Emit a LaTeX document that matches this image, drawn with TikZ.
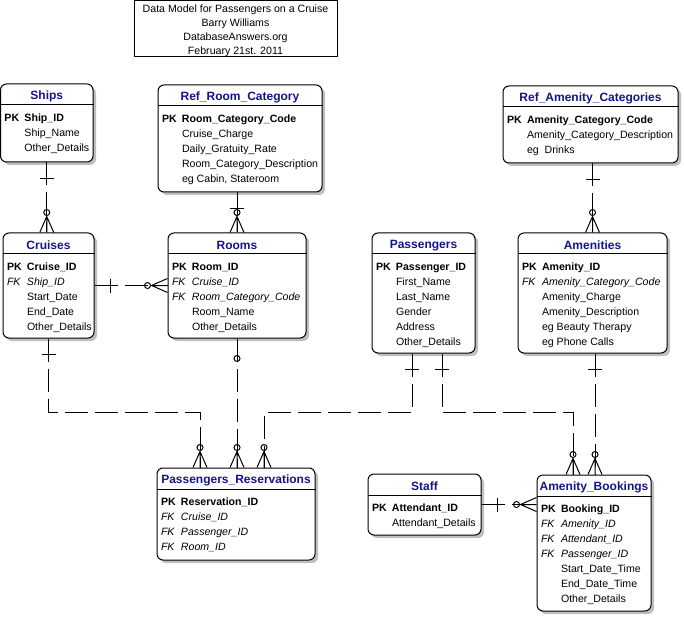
\documentclass[tikz,border=0pt]{standalone}
\usepackage{fontspec}
\setmainfont{Liberation Sans}
\usetikzlibrary{shadows}

\definecolor{navyt}{RGB}{20,20,140}
\def\rowfont{\fontsize{10.6}{15}\selectfont}
\def\headfont{\fontsize{12}{14}\selectfont\bfseries}
\newcommand\pkrow[1]{\makebox[20pt][l]{\bfseries PK}\textbf{#1}}
\newcommand\fkrow[1]{\makebox[20pt][l]{\itshape FK}\textit{#1}}
\newcommand\attr[1]{\hspace*{20pt}#1}
\newcommand\fields[1]{\begin{tabular}[t]{@{}l@{}}#1\end{tabular}}

\tikzstyle{entity}=[draw,rectangle,rounded corners=6pt,fill=white,inner sep=0pt,
                    drop shadow={shadow xshift=3pt,shadow yshift=-3pt,fill=black!25,opacity=1}]
\tikzstyle{etitle}=[inner sep=0pt,text=navyt,font=\headfont]
\tikzstyle{rows}=[anchor=base west,inner sep=0pt,font=\rowfont]
\tikzstyle{rel}=[dash pattern=on 23pt off 7pt]

\tikzset{
  one/.pic={\draw[solid] (16,-7) -- (16,7);},
  zmany/.pic={\draw[solid] (0,-7) -- (16,0) -- (0,7) (0,0) -- (16,0) (20,0) circle (3pt);},
  zone/.pic={\draw[solid] (20,0) circle (3pt);}
}

\begin{document}
\begin{tikzpicture}[x=1pt,y=-1pt,line width=1pt]
  \useasboundingbox (0,0) rectangle (684,617);

  % title block
  \node[draw,rectangle,inner sep=0pt,minimum width=203,minimum height=56,align=center,
        font=\fontsize{10.6}{14}\selectfont] (info) at (235.5,29) {};
  \node[align=center,inner sep=0pt,font=\fontsize{10.6}{14}\selectfont] (infot) at (235.5,30.5) {Data Model for Passengers on a Cruise\\Barry Williams\\DatabaseAnswers.org\\February 21st. 2011};

  % Ships
  \node[entity,minimum width=92.5,minimum height=78] (ships) at (46.75,123) {};
  \node[etitle] (shipst) at ([yshift=-13pt]ships.north) {Ships};
  \draw ([yshift=-21.5pt]ships.north west) -- ([yshift=-21.5pt]ships.north east);
  \node[rows] (shipsr) at ([xshift=4pt,yshift=-38pt]ships.north west) {\fields{\pkrow{Ship\_ID}\\ \attr{Ship\_Name}\\ \attr{Other\_Details}}};

  % Ref_Room_Category
  \node[entity,minimum width=164,minimum height=107] (refroom) at (240,138.5) {};
  \node[etitle] (refroomt) at ([yshift=-13pt]refroom.north) {Ref\_Room\_Category};
  \draw ([yshift=-21.5pt]refroom.north west) -- ([yshift=-21.5pt]refroom.north east);
  \node[rows] (refroomr) at ([xshift=4pt,yshift=-38pt]refroom.north west) {\fields{\pkrow{Room\_Category\_Code}\\ \attr{Cruise\_Charge}\\ \attr{Daily\_Gratuity\_Rate}\\ \attr{Room\_Category\_Description}\\ \attr{eg Cabin, Stateroom}}};

  % Ref_Amenity_Categories
  \node[entity,minimum width=175,minimum height=77] (refamen) at (590.5,124.5) {};
  \node[etitle] (refament) at ([yshift=-13pt]refamen.north) {Ref\_Amenity\_Categories};
  \draw ([yshift=-21.5pt]refamen.north west) -- ([yshift=-21.5pt]refamen.north east);
  \node[rows] (refamenr) at ([xshift=4pt,yshift=-38pt]refamen.north west) {\fields{\pkrow{Amenity\_Category\_Code}\\ \attr{Amenity\_Category\_Description}\\ \attr{eg\ \ Drinks}}};

  % Cruises
  \node[entity,minimum width=91,minimum height=105] (cruises) at (48.5,285.5) {};
  \node[etitle] (cruisest) at ([yshift=-13pt]cruises.north) {Cruises};
  \draw ([yshift=-21.5pt]cruises.north west) -- ([yshift=-21.5pt]cruises.north east);
  \node[rows] (cruisesr) at ([xshift=4pt,yshift=-38pt]cruises.north west) {\fields{\pkrow{Cruise\_ID}\\ \fkrow{Ship\_ID}\\ \attr{Start\_Date}\\ \attr{End\_Date}\\ \attr{Other\_Details}}};

  % Rooms
  \node[entity,minimum width=138,minimum height=105] (rooms) at (237,285.5) {};
  \node[etitle] (roomst) at ([yshift=-13pt]rooms.north) {Rooms};
  \draw ([yshift=-21.5pt]rooms.north west) -- ([yshift=-21.5pt]rooms.north east);
  \node[rows] (roomsr) at ([xshift=4pt,yshift=-38pt]rooms.north west) {\fields{\pkrow{Room\_ID}\\ \fkrow{Cruise\_ID}\\ \fkrow{Room\_Category\_Code}\\ \attr{Room\_Name}\\ \attr{Other\_Details}}};

  % Passengers
  \node[entity,minimum width=103,minimum height=120] (pass) at (423.5,293) {};
  \node[etitle] (passt) at ([yshift=-13pt]pass.north) {Passengers};
  \draw ([yshift=-21.5pt]pass.north west) -- ([yshift=-21.5pt]pass.north east);
  \node[rows] (passr) at ([xshift=4pt,yshift=-38pt]pass.north west) {\fields{\pkrow{Passenger\_ID}\\ \attr{First\_Name}\\ \attr{Last\_Name}\\ \attr{Gender}\\ \attr{Address}\\ \attr{Other\_Details}}};

  % Amenities
  \node[entity,minimum width=149,minimum height=120] (amen) at (592.5,293) {};
  \node[etitle] (ament) at ([yshift=-13pt]amen.north) {Amenities};
  \draw ([yshift=-21.5pt]amen.north west) -- ([yshift=-21.5pt]amen.north east);
  \node[rows] (amenr) at ([xshift=4pt,yshift=-38pt]amen.north west) {\fields{\pkrow{Amenity\_ID}\\ \fkrow{Amenity\_Category\_Code}\\ \attr{Amenity\_Charge}\\ \attr{Amenity\_Description}\\ \attr{eg Beauty Therapy}\\ \attr{eg Phone Calls}}};

  % Passengers_Reservations
  \node[entity,minimum width=158,minimum height=92] (resv) at (236,514) {};
  \node[etitle] (resvt) at ([yshift=-13pt]resv.north) {Passengers\_Reservations};
  \draw ([yshift=-21.5pt]resv.north west) -- ([yshift=-21.5pt]resv.north east);
  \node[rows] (resvr) at ([xshift=4pt,yshift=-38pt]resv.north west) {\fields{\pkrow{Reservation\_ID}\\ \fkrow{Cruise\_ID}\\ \fkrow{Passenger\_ID}\\ \fkrow{Room\_ID}}};

  % Staff
  \node[entity,minimum width=113,minimum height=61] (staff) at (424.5,504.5) {};
  \node[etitle] (stafft) at ([yshift=-13pt]staff.north) {Staff};
  \draw ([yshift=-21.5pt]staff.north west) -- ([yshift=-21.5pt]staff.north east);
  \node[rows] (staffr) at ([xshift=4pt,yshift=-38pt]staff.north west) {\fields{\pkrow{Attendant\_ID}\\ \attr{Attendant\_Details}}};

  % Amenity_Bookings
  \node[entity,minimum width=114,minimum height=136] (book) at (594,543) {};
  \node[etitle] (bookt) at ([yshift=-13pt]book.north) {Amenity\_Bookings};
  \draw ([yshift=-21.5pt]book.north west) -- ([yshift=-21.5pt]book.north east);
  \node[rows] (bookr) at ([xshift=4pt,yshift=-38pt]book.north west) {\fields{\pkrow{Booking\_ID}\\ \fkrow{Amenity\_ID}\\ \fkrow{Attendant\_ID}\\ \fkrow{Passenger\_ID}\\ \attr{Start\_Date\_Time}\\ \attr{End\_Date\_Time}\\ \attr{Other\_Details}}};

  % relationships
  \path (ships.south) edge[rel] (ships.south |- cruises.north);
  \path (ships.south) pic[rotate=-90]{one} (ships.south |- cruises.north) pic[rotate=90]{zmany};

  \path (rooms.north |- refroom.south) edge[rel] (rooms.north);
  \path (rooms.north |- refroom.south) pic[rotate=-90]{one} (rooms.north) pic[rotate=90]{zmany};

  \path (cruises.east) edge[rel] (rooms.west);
  \path (cruises.east) pic{one} (rooms.west) pic[rotate=180]{zmany};

  \draw[rel] (cruises.south) -- ++(0,74) -| ([xshift=-36pt]resv.north);
  \path (cruises.south) pic[rotate=-90]{one} ([xshift=-36pt]resv.north) pic[rotate=90]{zmany};

  \path (rooms.south) edge[rel] (rooms.south |- resv.north);
  \path (rooms.south) pic[rotate=-90]{zone} (rooms.south |- resv.north) pic[rotate=90]{zmany};

  \draw[rel] ([xshift=-11.5pt]pass.south) -- ++(0,59) -| ([xshift=28pt]resv.north);
  \path ([xshift=-11.5pt]pass.south) pic[rotate=-90]{one} ([xshift=28pt]resv.north) pic[rotate=90]{zmany};

  \draw[rel] ([xshift=18.5pt]pass.south) -- ++(0,59) -| ([xshift=-21pt]book.north);
  \path ([xshift=18.5pt]pass.south) pic[rotate=-90]{one} ([xshift=-21pt]book.north) pic[rotate=90]{zmany};

  \path ([xshift=2.5pt]amen.south) edge[rel] ([xshift=2.5pt]amen.south |- book.north);
  \path ([xshift=2.5pt]amen.south) pic[rotate=-90]{one} ([xshift=2.5pt]amen.south |- book.north) pic[rotate=90]{zmany};

  \path (staff.east) edge[rel] (staff.east -| book.west);
  \path (staff.east) pic{one} (staff.east -| book.west) pic[rotate=180]{zmany};

  \path (amen.north |- refamen.south) edge[rel] (amen.north);
  \path (amen.north |- refamen.south) pic[rotate=-90]{one} (amen.north) pic[rotate=90]{zmany};

\end{tikzpicture}
\end{document}
